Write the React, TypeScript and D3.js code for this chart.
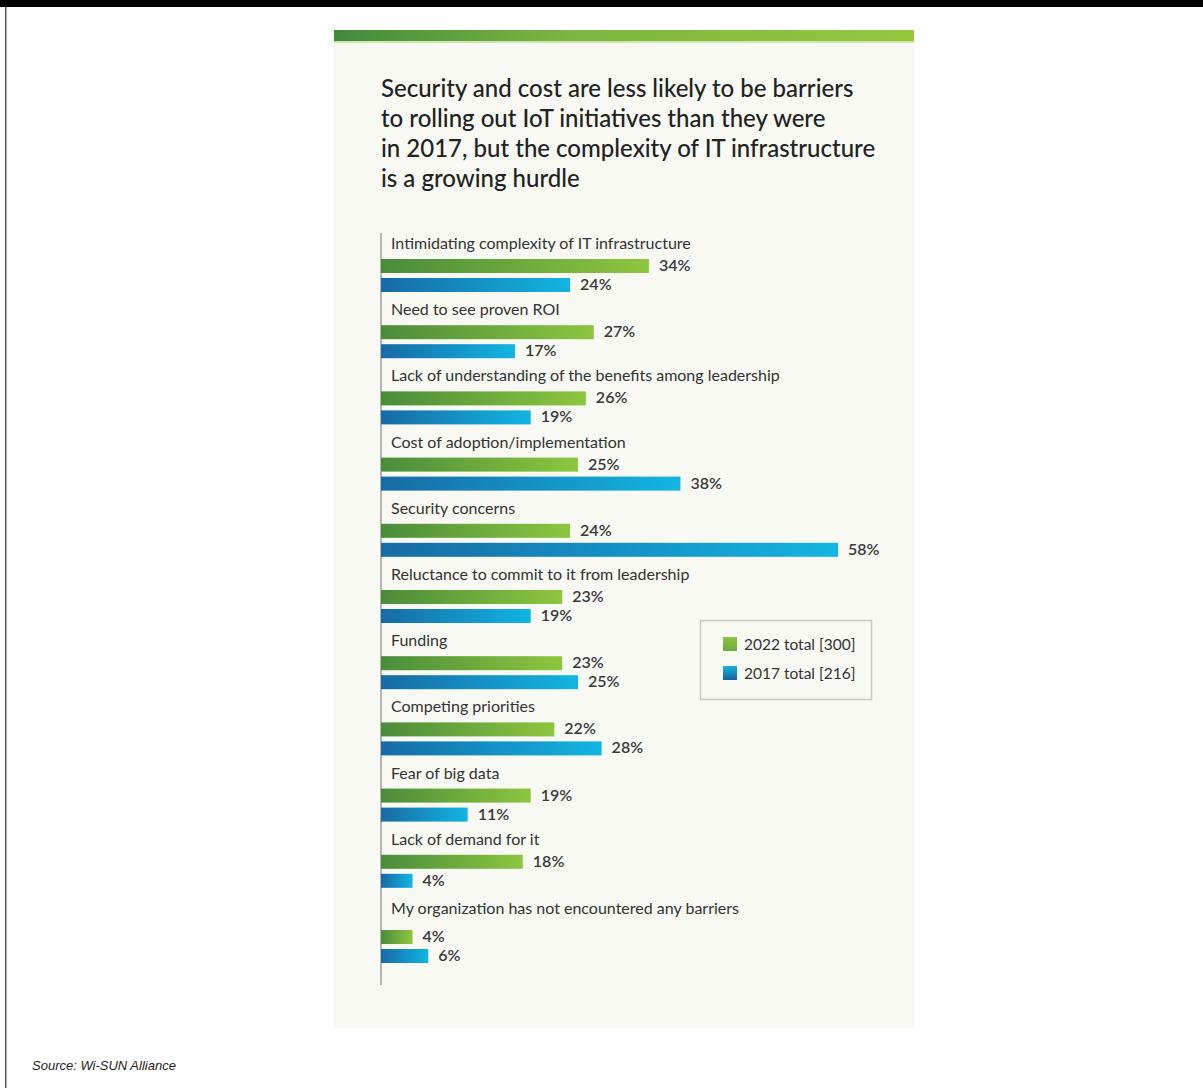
import React from "react";
import * as d3 from "d3";

const categories = [
  "Intimidating complexity of IT infrastructure",
  "Need to see proven ROI",
  "Lack of understanding of the benefits among leadership",
  "Cost of adoption/implementation",
  "Security concerns",
  "Reluctance to commit to it from leadership",
  "Funding",
  "Competing priorities",
  "Fear of big data",
  "Lack of demand for it",
  "My organization has not encountered any barriers",
];
const values2022 = [34, 27, 26, 25, 24, 23, 23, 22, 19, 18, 4];
const values2017 = [24, 17, 19, 38, 58, 19, 25, 28, 11, 4, 6];
const legendLabels = ["2022 total [300]", "2017 total [216]"];
const titleLines = [
  "Security and cost are less likely to be barriers",
  "to rolling out IoT initiatives than they were",
  "in 2017, but the complexity of IT infrastructure",
  "is a growing hurdle",
];
const sourceText = "Source: Wi-SUN Alliance";

const W = 1203;
const H = 1088;
const FONT = "Lato, 'Open Sans', sans-serif";

export default function App() {
  const x = d3.scaleLinear().domain([0, 58]).range([381, 838]);
  const groupStep = 66.2;
  const last = categories.length - 1;
  const groupTop = (i: number) => 244 + i * groupStep + (i === last ? 3 : 0);
  const barOffset = (i: number) => (i === last ? 6 : 0);

  return (
    <div style={{ position: "absolute", left: 0, top: 0 }}>
      <svg width={W} height={H} style={{ display: "block" }}>
        <defs>
          <linearGradient id="gGreen" x1="0" x2="1" y1="0" y2="0">
            <stop offset="0%" stopColor="#4a8c3b" />
            <stop offset="100%" stopColor="#8dc63f" />
          </linearGradient>
          <linearGradient id="gBlue" x1="0" x2="1" y1="0" y2="0">
            <stop offset="0%" stopColor="#176aa5" />
            <stop offset="100%" stopColor="#12b5e2" />
          </linearGradient>
          <linearGradient id="gTop" x1="0" x2="1" y1="0" y2="0">
            <stop offset="0%" stopColor="#428a3c" />
            <stop offset="40%" stopColor="#7db540" />
            <stop offset="100%" stopColor="#93c83e" />
          </linearGradient>
          <linearGradient id="gLegG" x1="0" x2="0" y1="0" y2="1">
            <stop offset="0%" stopColor="#8dc63f" />
            <stop offset="100%" stopColor="#6aab3c" />
          </linearGradient>
          <linearGradient id="gLegB" x1="0" x2="0" y1="0" y2="1">
            <stop offset="0%" stopColor="#14b4e0" />
            <stop offset="100%" stopColor="#17639e" />
          </linearGradient>
        </defs>
        <rect x={0} y={0} width={W} height={H} fill="#ffffff" />
        <rect x={0} y={0} width={W} height={7} fill="#000000" />
        <rect x={5} y={7} width={1.5} height={H - 7} fill="#555555" />

        {/* panel */}
        <rect x={334} y={30} width={580} height={998} fill="#f7f9f2" />
        <rect x={334} y={30} width={580} height={11} fill="url(#gTop)" />
        <rect x={334} y={41} width={580} height={2} fill="#cfe6b0" />

        {titleLines.map((t, i) => (
          <text
            key={i}
            x={381}
            y={97 + i * 30}
            fontFamily={FONT}
            fontSize={24}
            fontWeight={500}
            fill="#222222"
          >
            {t}
          </text>
        ))}

        <line x1={381} x2={381} y1={233} y2={985} stroke="#b5b5b5" strokeWidth={2} />

        {categories.map((c, i) => {
          const top = groupTop(i);
          const gy = top + 15 + barOffset(i);
          const by = gy + 19;
          return (
            <g key={c}>
              <text x={391} y={top + 5} fontFamily={FONT} fontSize={16} fill="#333333">
                {c}
              </text>
              <rect
                x={x(0)}
                y={gy}
                width={x(values2022[i]) - x(0)}
                height={14}
                fill="url(#gGreen)"
              />
              <text
                x={x(values2022[i]) + 10}
                y={gy + 12}
                fontFamily={FONT}
                fontSize={16}
                fontWeight={600}
                fill="#3a3a3a"
              >
                {values2022[i]}%
              </text>
              <rect
                x={x(0)}
                y={by}
                width={x(values2017[i]) - x(0)}
                height={14}
                fill="url(#gBlue)"
              />
              <text
                x={x(values2017[i]) + 10}
                y={by + 12}
                fontFamily={FONT}
                fontSize={16}
                fontWeight={600}
                fill="#3a3a3a"
              >
                {values2017[i]}%
              </text>
            </g>
          );
        })}

        {/* legend */}
        <rect x={700.5} y={620.5} width={171} height={79} fill="#f7f9f2" stroke="#c8c8c8" strokeWidth={1.5} />
        {legendLabels.map((l, i) => (
          <g key={l}>
            <rect
              x={723}
              y={637 + i * 29}
              width={14}
              height={14}
              fill={i === 0 ? "url(#gLegG)" : "url(#gLegB)"}
            />
            <text x={744} y={650 + i * 29} fontFamily={FONT} fontSize={15.5} fill="#333333">
              {l}
            </text>
          </g>
        ))}

        <text
          x={32}
          y={1070}
          fontFamily="Arial, 'Liberation Sans', sans-serif"
          fontSize={13}
          fontStyle="italic"
          fill="#222222"
        >
          {sourceText}
        </text>
      </svg>
    </div>
  );
}
